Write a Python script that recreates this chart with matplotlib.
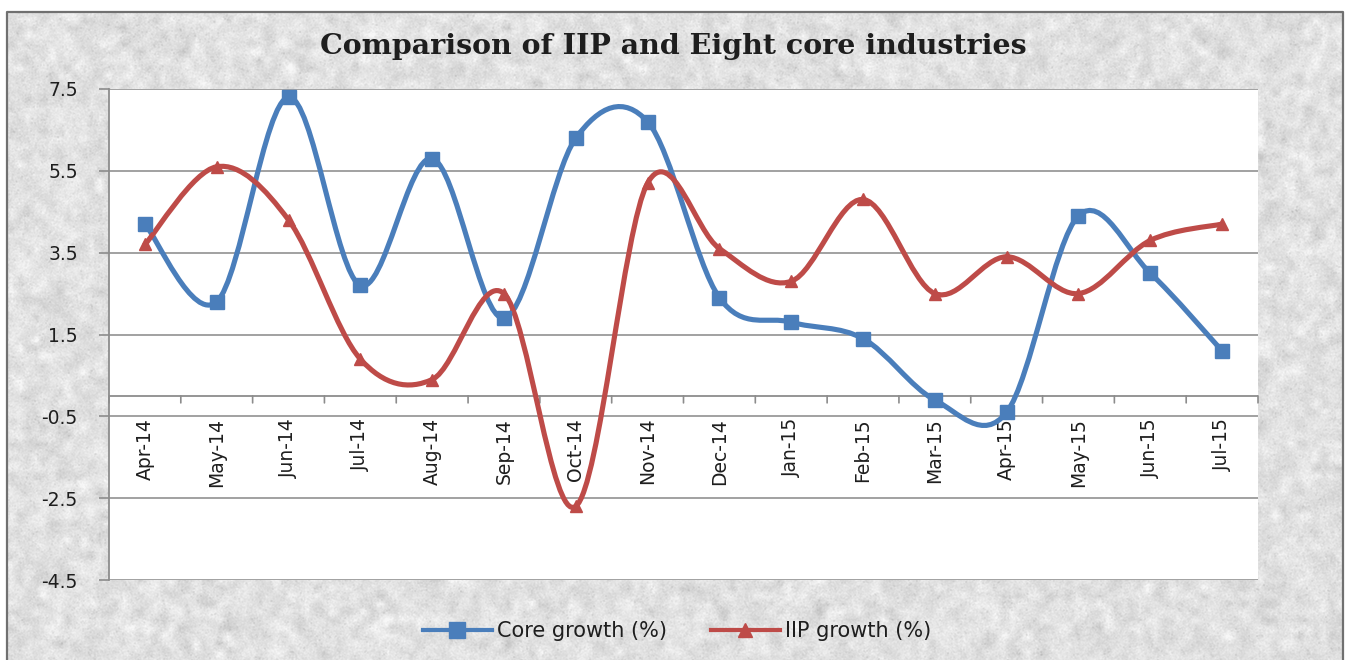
import matplotlib
matplotlib.use("Agg")
import matplotlib.pyplot as plt
import numpy as np
from matplotlib.path import Path
from matplotlib.patches import PathPatch, Rectangle
from matplotlib.lines import Line2D
import matplotlib.transforms as mtransforms

months = ["Apr-14", "May-14", "Jun-14", "Jul-14", "Aug-14", "Sep-14", "Oct-14",
          "Nov-14", "Dec-14", "Jan-15", "Feb-15", "Mar-15", "Apr-15", "May-15",
          "Jun-15", "Jul-15"]
core_growth = [4.2, 2.3, 7.3, 2.7, 5.8, 1.9, 6.3, 6.7, 2.4, 1.8, 1.4, -0.1, -0.4, 4.4, 3.0, 1.1]
iip_growth = [3.7, 5.6, 4.3, 0.9, 0.4, 2.5, -2.7, 5.2, 3.6, 2.8, 4.8, 2.5, 3.4, 2.5, 3.8, 4.2]
yticks = [7.5, 5.5, 3.5, 1.5, -0.5, -2.5, -4.5]

BLUE = "#4a7ebb"
RED = "#be4b48"
TXT = "#1e1e1e"
W, H = 1346, 660


def smooth_path(x, y):
    # bezier segments through the points (catmull-rom tangents), like a "smoothed line"
    pts = np.column_stack([np.asarray(x, float), np.asarray(y, float)])
    ext = np.vstack([pts[0], pts, pts[-1]])
    verts = [pts[0]]
    codes = [Path.MOVETO]
    for i in range(len(pts) - 1):
        p0, p1, p2, p3 = ext[i], ext[i + 1], ext[i + 2], ext[i + 3]
        verts += [p1 + (p2 - p0) / 6.0, p2 - (p3 - p1) / 6.0, p2]
        codes += [Path.CURVE4] * 3
    return Path(verts, codes)


def box_blur(a, k):
    ker = np.ones(k) / k
    a = np.apply_along_axis(lambda r: np.convolve(r, ker, mode="same"), 1, a)
    return np.apply_along_axis(lambda c: np.convolve(c, ker, mode="same"), 0, a)


fig = plt.figure(figsize=(W / 100, H / 100), dpi=100)
fig.patch.set_facecolor("white")

# granite-like backdrop
rng = np.random.default_rng(7)
fine = box_blur(rng.normal(0, 1, (H, W)), 2)
blotch = rng.normal(0, 1, (H // 8 + 2, W // 8 + 2))
blotch = box_blur(np.kron(blotch, np.ones((8, 8)))[:H, :W], 9)
specks = box_blur((rng.random((H, W)) > 0.985).astype(float), 2)
tex = 0.885 + 0.03 * fine + 0.035 * blotch - 0.12 * specks
tex = np.clip(tex, 0.62, 0.97)
bg = fig.add_axes([0, 0, 1, 1], zorder=-10)
bg.imshow(np.dstack([tex, tex, tex]), extent=(0, W, H, 0), aspect="auto")
bg.add_patch(Rectangle((0, 0), 7, H, color="white", lw=0))
bg.add_patch(Rectangle((0, 0), W, 12, color="white", lw=0))
bg.add_patch(Rectangle((1343, 0), 3, H, color="white", lw=0))
bg.plot([7, 7, 1343, 1343], [H, 12, 12, H], color="#707070", lw=1.6)
bg.set_xlim(0, W)
bg.set_ylim(H, 0)
bg.axis("off")

ax = fig.add_axes([109 / W, 1 - 580 / H, 1149 / W, 491 / H])
ax.set_facecolor("white")
n = len(months)
xs = np.arange(n)
ax.set_xlim(-0.5, n - 0.5)
ax.set_ylim(-4.5, 7.5)
ax.set_yticks(yticks)
ax.set_yticklabels([f"{v:.1f}" for v in yticks], family="DejaVu Sans", fontsize=13.5, color=TXT)
ax.tick_params(axis="y", length=7.5, width=1.2, color="#8c8c8c", pad=15)
ax.yaxis.grid(True, color="#9a9a9a", lw=1.3)
ax.set_axisbelow(True)
for side in ["top", "right", "bottom"]:
    ax.spines[side].set_visible(False)
ax.spines["left"].set_color("#8c8c8c")
ax.spines["left"].set_linewidth(1.3)
ax.set_xticks([])

# category axis at zero with boundary ticks and rotated labels
ax.axhline(0, color="#8c8c8c", lw=1.3, zorder=1)
for b in np.arange(-0.5, n, 1.0):
    ax.annotate("", xy=(b, 0), xytext=(0, -7), textcoords="offset pixels",
                arrowprops=dict(arrowstyle="-", color="#8c8c8c", lw=1.2, shrinkA=0, shrinkB=0))
lab_off = mtransforms.offset_copy(ax.transData, fig=fig, x=0, y=-22, units="dots")
for i, m in enumerate(months):
    ax.text(xs[i], 0, m, transform=lab_off, rotation=90, ha="center", va="top",
            family="DejaVu Sans", fontsize=13.5, color=TXT, zorder=2)

for vals, col, mk, ms in [(core_growth, BLUE, "s", 10.5), (iip_growth, RED, "^", 9)]:
    ax.add_patch(PathPatch(smooth_path(xs, vals), fill=False, edgecolor=col, lw=3.7,
                           capstyle="round", joinstyle="round", zorder=3))
    ax.plot(xs, vals, linestyle="none", marker=mk, markersize=ms, color=col,
            markeredgecolor=col, zorder=4)

fig.text(0.5, 1 - 47 / H, "Comparison of IIP and Eight core industries", ha="center",
         va="center", family="DejaVu Serif", fontweight="bold", fontsize=20.5, color=TXT)

handles = [Line2D([], [], color=BLUE, lw=3, marker="s", markersize=11),
           Line2D([], [], color=RED, lw=3, marker="^", markersize=10)]
fig.legend(handles, ["Core growth (%)", "IIP growth (%)"], loc="center",
           bbox_to_anchor=(677 / W, 1 - 631 / H), ncol=2, frameon=False,
           prop={"family": "DejaVu Sans", "size": 15}, handlelength=3.3, columnspacing=2.1,
           handletextpad=0.25, labelcolor=TXT)

fig.savefig("out.png", dpi=100)
